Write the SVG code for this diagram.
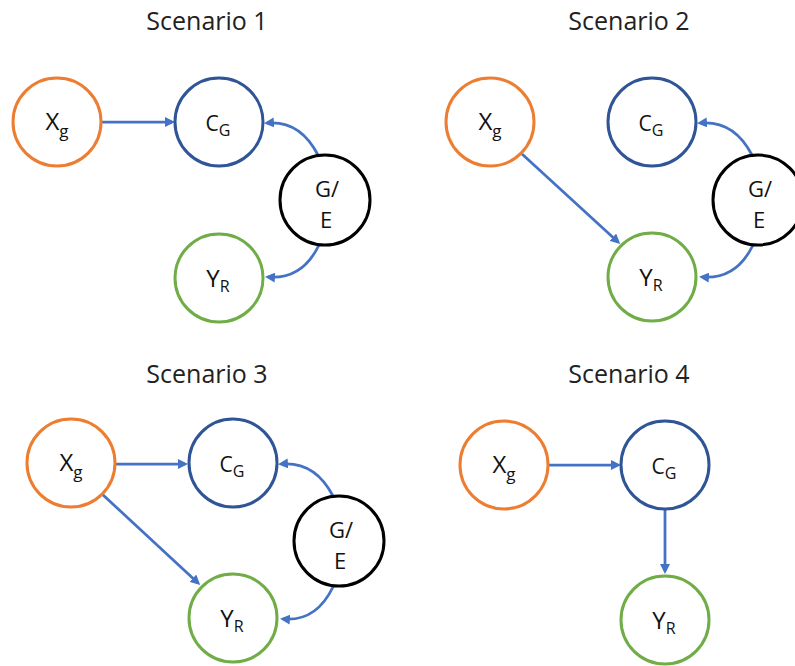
<svg xmlns="http://www.w3.org/2000/svg" width="795" height="666" viewBox="0 0 795 666">
<style>
.title{font-family:"Open Sans","Noto Sans",sans-serif;font-size:25px;fill:#222;text-anchor:middle}
.lbl{font-family:"Open Sans","Noto Sans",sans-serif;font-size:24px;fill:#111;text-anchor:middle}
.lblg{font-family:"Open Sans","Noto Sans",sans-serif;font-size:22px;fill:#111;text-anchor:middle}
.lblc{font-family:"Open Sans","Noto Sans",sans-serif;font-size:21px;fill:#111;text-anchor:middle}
.sub{font-size:17px}
.subc{font-size:16px}
.n{fill:#fff;stroke-width:3}
.x{stroke:#ED7D31}
.c{stroke:#2F5597}
.y{stroke:#70AD47}
.g{stroke:#000}
.e{fill:none;stroke:#4472C4;stroke-width:2.75;marker-end:url(#ah)}
</style>
<defs>
<marker id="ah" viewBox="0 0 10 10" refX="7" refY="5" markerWidth="10" markerHeight="10" markerUnits="userSpaceOnUse" orient="auto">
<path d="M0,0 L10,5 L0,10 z" fill="#4472C4"/>
</marker>
</defs>
<rect width="795" height="666" fill="#fff"/>
<text class="title" x="207" y="30">Scenario 1</text>
<text class="title" x="629" y="30">Scenario 2</text>
<text class="title" x="207" y="383">Scenario 3</text>
<text class="title" x="629" y="383">Scenario 4</text>

<g id="edges">
<path class="e" d="M101,122 L172,122"/>
<path class="e" d="M318,155 Q300,120 267,123"/>
<path class="e" d="M319,245 Q302,280 268,277"/>
<path class="e" d="M522,154 L618,242"/>
<path class="e" d="M752,155 Q734,120 700,123"/>
<path class="e" d="M753,245 Q736,280 702,277"/>
<path class="e" d="M116,464 L185,464"/>
<path class="e" d="M102,494 L198,583"/>
<path class="e" d="M333,496 Q315,461 281,464"/>
<path class="e" d="M333,587 Q316,622 283,619"/>
<path class="e" d="M548,465 L618,465"/>
<path class="e" d="M665,510 L665,571"/>
</g>

<g id="s1-xg"><circle class="n x" cx="57" cy="122" r="44"/><text class="lbl" x="57" y="130">X<tspan class="sub" dy="7">g</tspan></text></g>
<g id="s1-cg"><circle class="n c" cx="219" cy="122" r="44"/><text class="lblc" x="218" y="131">C<tspan class="subc" dy="5">G</tspan></text></g>
<g id="s1-ge"><circle class="n g" cx="325" cy="200" r="45"/><text class="lblg"><tspan x="327" y="197">G/</tspan><tspan x="326" y="228">E</tspan></text></g>
<g id="s1-yr"><circle class="n y" cx="219" cy="278" r="44"/><text class="lbl" x="218" y="287">Y<tspan class="subc" dy="5">R</tspan></text></g>

<g id="s2-xg"><circle class="n x" cx="490" cy="122" r="44"/><text class="lbl" x="490" y="130">X<tspan class="sub" dy="7">g</tspan></text></g>
<g id="s2-cg"><circle class="n c" cx="652" cy="122" r="44"/><text class="lblc" x="651" y="131">C<tspan class="subc" dy="5">G</tspan></text></g>
<g id="s2-ge"><circle class="n g" cx="758" cy="200" r="45"/><text class="lblg"><tspan x="760" y="197">G/</tspan><tspan x="759" y="228">E</tspan></text></g>
<g id="s2-yr"><circle class="n y" cx="652" cy="277" r="44"/><text class="lbl" x="651" y="286">Y<tspan class="subc" dy="5">R</tspan></text></g>

<g id="s3-xg"><circle class="n x" cx="71" cy="463" r="44"/><text class="lbl" x="71" y="471">X<tspan class="sub" dy="7">g</tspan></text></g>
<g id="s3-cg"><circle class="n c" cx="233" cy="463" r="44"/><text class="lblc" x="232" y="472">C<tspan class="subc" dy="5">G</tspan></text></g>
<g id="s3-ge"><circle class="n g" cx="339" cy="541" r="45"/><text class="lblg"><tspan x="341" y="538">G/</tspan><tspan x="340" y="569">E</tspan></text></g>
<g id="s3-yr"><circle class="n y" cx="233" cy="618" r="44"/><text class="lbl" x="232" y="627">Y<tspan class="subc" dy="5">R</tspan></text></g>

<g id="s4-xg"><circle class="n x" cx="504" cy="465" r="44"/><text class="lbl" x="504" y="473">X<tspan class="sub" dy="7">g</tspan></text></g>
<g id="s4-cg"><circle class="n c" cx="665" cy="465" r="44"/><text class="lblc" x="664" y="474">C<tspan class="subc" dy="5">G</tspan></text></g>
<g id="s4-yr"><circle class="n y" cx="665" cy="620" r="44"/><text class="lbl" x="664" y="629">Y<tspan class="subc" dy="5">R</tspan></text></g>
</svg>
